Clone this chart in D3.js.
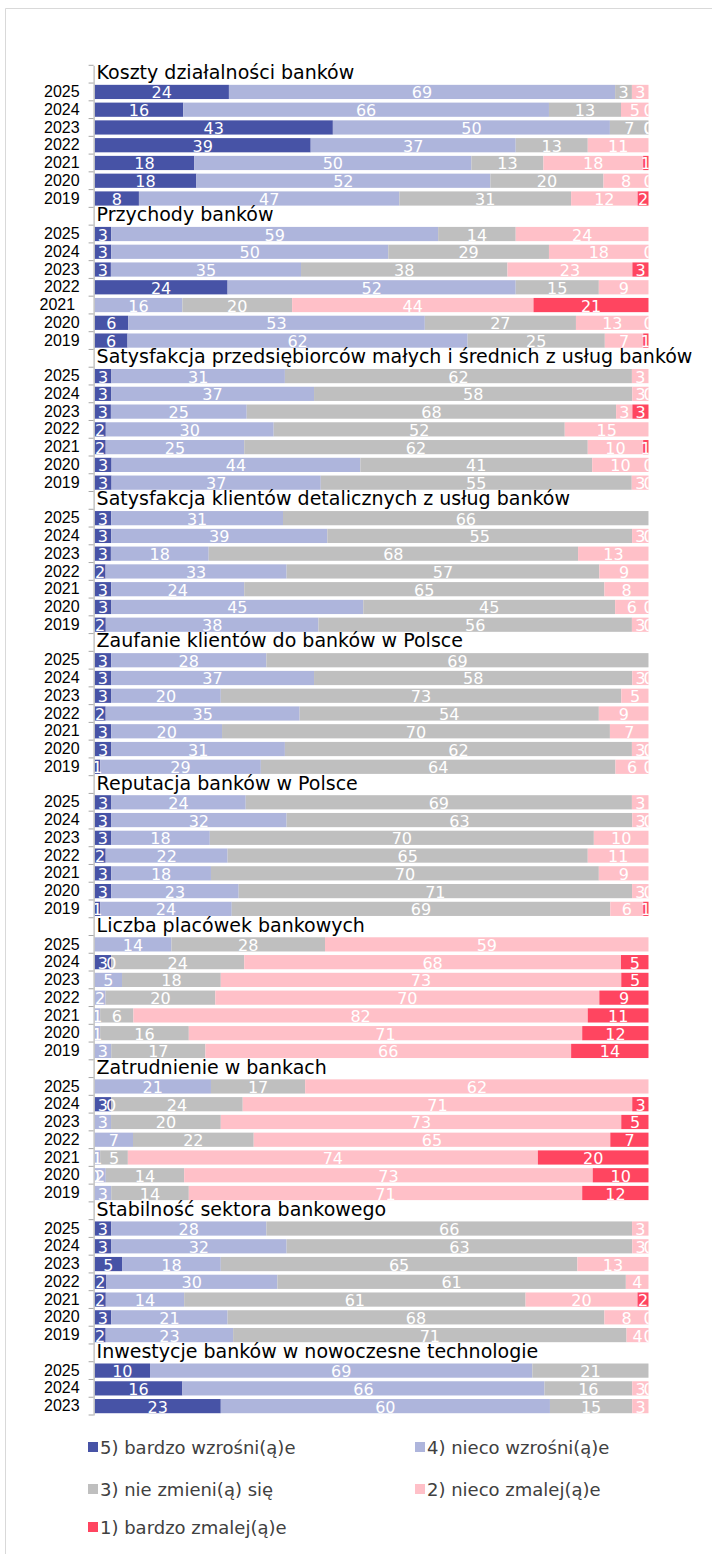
<!DOCTYPE html>
<html>
<head>
<meta charset="utf-8">
<script src="https://cdn.jsdelivr.net/npm/d3@7"></script>
<style>
  html, body { margin: 0; padding: 0; background: #fff; }
  svg { display: block; }
</style>
</head>
<body>
<svg id="chart" width="712" height="1554"></svg>
<script>
// Answer categories (stack order, left to right) and their colours
const seriesNames = [
  "5) bardzo wzrośni(ą)e",
  "4) nieco wzrośni(ą)e",
  "3) nie zmieni(ą) się",
  "2) nieco zmalej(ą)e",
  "1) bardzo zmalej(ą)e"
];
const seriesColors = ["#4753a6", "#aeb5dc", "#bfbfbf", "#ffc0c8", "#ff4560"];

// Question titles, one per block
const groupTitles = [
  "Koszty działalności banków",
  "Przychody banków",
  "Satysfakcja przedsiębiorców małych i średnich z usług banków",
  "Satysfakcja klientów detalicznych z usług banków",
  "Zaufanie klientów do banków w Polsce",
  "Reputacja banków w Polsce",
  "Liczba placówek bankowych",
  "Zatrudnienie w bankach",
  "Stabilność sektora bankowego",
  "Inwestycje banków w nowoczesne technologie"
];

// Year labels per block
const yearsFull = ["2025", "2024", "2023", "2022", "2021", "2020", "2019"];
const yearsPrzychody = ["2025", "2024", "2023", "2022", "2021\u00a0", "2020", "2019"];
const yearsShort = ["2025", "2024", "2023"];

// Shares of answers (%), rows follow the year order; null = no answer shown
const kosztyValues = [
  [24, 69, 3, 3, null],
  [16, 66, 13, 5, 0],
  [43, 50, 7, 0, 0],
  [39, 37, 13, 11, null],
  [18, 50, 13, 18, 1],
  [18, 52, 20, 8, 0],
  [8, 47, 31, 12, 2]
];
const przychodyValues = [
  [3, 59, 14, 24, null],
  [3, 50, 29, 18, 0],
  [3, 35, 38, 23, 3],
  [24, 52, 15, 9, null],
  [null, 16, 20, 44, 21],
  [6, 53, 27, 13, 0],
  [6, 62, 25, 7, 1]
];
const satPrzedsiebiorcyValues = [
  [3, 31, 62, 3, null],
  [3, 37, 58, 3, 0],
  [3, 25, 68, 3, 3],
  [2, 30, 52, 15, null],
  [2, 25, 62, 10, 1],
  [3, 44, 41, 10, 0],
  [3, 37, 55, 3, 0]
];
const satDetaliczniValues = [
  [3, 31, 66, null, null],
  [3, 39, 55, 3, 0],
  [3, 18, 68, 13, null],
  [2, 33, 57, 9, null],
  [3, 24, 65, 8, null],
  [3, 45, 45, 6, 0],
  [2, 38, 56, 3, 0]
];
const zaufanieValues = [
  [3, 28, 69, null, null],
  [3, 37, 58, 3, 0],
  [3, 20, 73, 5, null],
  [2, 35, 54, 9, null],
  [3, 20, 70, 7, null],
  [3, 31, 62, 3, 0],
  [1, 29, 64, 6, 0]
];
const reputacjaValues = [
  [3, 24, 69, 3, null],
  [3, 32, 63, 3, 0],
  [3, 18, 70, 10, null],
  [2, 22, 65, 11, null],
  [3, 18, 70, 9, null],
  [3, 23, 71, 3, 0],
  [1, 24, 69, 6, 1]
];
const placowkiValues = [
  [null, 14, 28, 59, null],
  [3, 0, 24, 68, 5],
  [null, 5, 18, 73, 5],
  [null, 2, 20, 70, 9],
  [null, 1, 6, 82, 11],
  [null, 1, 16, 71, 12],
  [null, 3, 17, 66, 14]
];
const zatrudnienieValues = [
  [null, 21, 17, 62, null],
  [3, 0, 24, 71, 3],
  [null, 3, 20, 73, 5],
  [null, 7, 22, 65, 7],
  [null, 1, 5, 74, 20],
  [0, 2, 14, 73, 10],
  [null, 3, 14, 71, 12]
];
const stabilnoscValues = [
  [3, 28, 66, 3, null],
  [3, 32, 63, 3, 0],
  [5, 18, 65, 13, null],
  [2, 30, 61, 4, null],
  [2, 14, 61, 20, 2],
  [3, 21, 68, 8, 0],
  [2, 23, 71, 4, 0]
];
const technologieValues = [
  [10, 69, 21, null, null],
  [16, 66, 16, 3, 0],
  [23, 60, 15, 3, null]
];

const groupYears = [yearsFull, yearsPrzychody, yearsFull, yearsFull, yearsFull,
                    yearsFull, yearsFull, yearsFull, yearsFull, yearsShort];
const groupValues = [kosztyValues, przychodyValues, satPrzedsiebiorcyValues,
                     satDetaliczniValues, zaufanieValues, reputacjaValues,
                     placowkiValues, zatrudnienieValues, stabilnoscValues,
                     technologieValues];

// Flatten into one category axis: a title row followed by the year rows
const rows = [];
groupTitles.forEach((title, gi) => {
  rows.push({ key: "t" + gi, kind: "title", label: "", title });
  groupYears[gi].forEach((yr, yi) => {
    rows.push({ key: "g" + gi + "y" + yi, kind: "bar", label: yr, values: groupValues[gi][yi] });
  });
});
const barRows = rows.filter(r => r.kind === "bar");

// Layout
const plotLeft = 94.6, plotRight = 648.7, plotTop = 65.3, plotBottom = 1415;

const svg = d3.select("#chart");

const y = d3.scaleBand()
  .domain(rows.map(r => r.key))
  .range([plotTop, plotBottom])
  .paddingInner(0.2)
  .paddingOuter(0.1);

const x = d3.scaleLinear().domain([0, 1]).range([plotLeft, plotRight]);

// Each bar shows the shares of one year, expanded to the full width
const stack = d3.stack()
  .keys(d3.range(seriesNames.length))
  .value((d, k) => d.values[k] == null ? 0 : d.values[k])
  .offset(d3.stackOffsetExpand);
const layers = stack(barRows);

// Outer frame (top and left edges)
svg.append("path")
  .attr("d", "M5.5,1554 V8.5 H712")
  .attr("fill", "none").attr("stroke", "#d9d9d9");

svg.append("defs").append("clipPath").attr("id", "plotClip")
  .append("rect")
  .attr("x", plotLeft).attr("y", plotTop)
  .attr("width", plotRight - plotLeft).attr("height", plotBottom - plotTop);

const plot = svg.append("g").attr("clip-path", "url(#plotClip)");

// Bars
plot.selectAll("g.layer")
  .data(layers)
  .join("g")
  .attr("class", "layer")
  .attr("fill", (d, i) => seriesColors[i])
  .selectAll("rect")
  .data(d => d.filter(p => p[1] > p[0]))
  .join("rect")
  .attr("x", d => x(d[0]))
  .attr("y", d => y(d.data.key))
  .attr("width", d => x(d[1]) - x(d[0]))
  .attr("height", y.bandwidth());

// Value labels centred in each segment
const labelData = [];
layers.forEach((layer, k) => {
  layer.forEach(p => {
    const v = p.data.values[k];
    if (v != null) labelData.push({ v, cx: (p[0] + p[1]) / 2, key: p.data.key });
  });
});
plot.append("g")
  .selectAll("text")
  .data(labelData)
  .join("text")
  .attr("x", d => x(d.cx))
  .attr("y", d => y(d.key) + y.bandwidth() / 2 + 1)
  .attr("text-anchor", "middle")
  .attr("dominant-baseline", "central")
  .attr("fill", "#ffffff")
  .style("font-family", "'DejaVu Sans', Verdana, sans-serif")
  .style("font-size", "16px")
  .text(d => d.v);

// Category axis with year labels
const labelByKey = new Map(rows.map(r => [r.key, r.label]));
const axisG = svg.append("g")
  .attr("transform", `translate(${plotLeft - 1},0)`)
  .call(d3.axisLeft(y).tickSize(0).tickPadding(14).tickFormat(k => labelByKey.get(k)));
axisG.select(".domain").attr("stroke", "#a6a6a6");
axisG.selectAll("text")
  .attr("fill", "#000")
  .style("font-family", "'Liberation Sans', Arial, sans-serif")
  .style("font-size", "16px");

// Tick marks between categories
const step = y.step();
axisG.append("g")
  .selectAll("line")
  .data(d3.range(rows.length + 1))
  .join("line")
  .attr("x1", -5).attr("x2", 0)
  .attr("y1", i => plotTop + i * step)
  .attr("y2", i => plotTop + i * step)
  .attr("stroke", "#a6a6a6");

// Block titles
svg.append("g")
  .selectAll("text")
  .data(rows.filter(r => r.kind === "title"))
  .join("text")
  .attr("x", plotLeft + 2)
  .attr("y", d => y(d.key) + y.bandwidth() / 2 + 5)
  .attr("fill", "#000")
  .style("font-family", "'DejaVu Sans', Verdana, sans-serif")
  .style("font-size", "19px")
  .text(d => d.title);

// Legend
const legendPos = [
  [88, 1447], [415, 1447],
  [88, 1489], [415, 1489],
  [88, 1527]
];
const legend = svg.append("g")
  .selectAll("g")
  .data(seriesNames)
  .join("g")
  .attr("transform", (d, i) => `translate(${legendPos[i][0]},${legendPos[i][1]})`);
legend.append("rect")
  .attr("x", 0).attr("y", -5)
  .attr("width", 10).attr("height", 10)
  .attr("fill", (d, i) => seriesColors[i]);
legend.append("text")
  .attr("x", 12).attr("y", 0)
  .attr("dominant-baseline", "central")
  .attr("fill", "#404040")
  .style("font-family", "'DejaVu Sans', Verdana, sans-serif")
  .style("font-size", "18px")
  .text(d => d);
</script>
</body>
</html>
